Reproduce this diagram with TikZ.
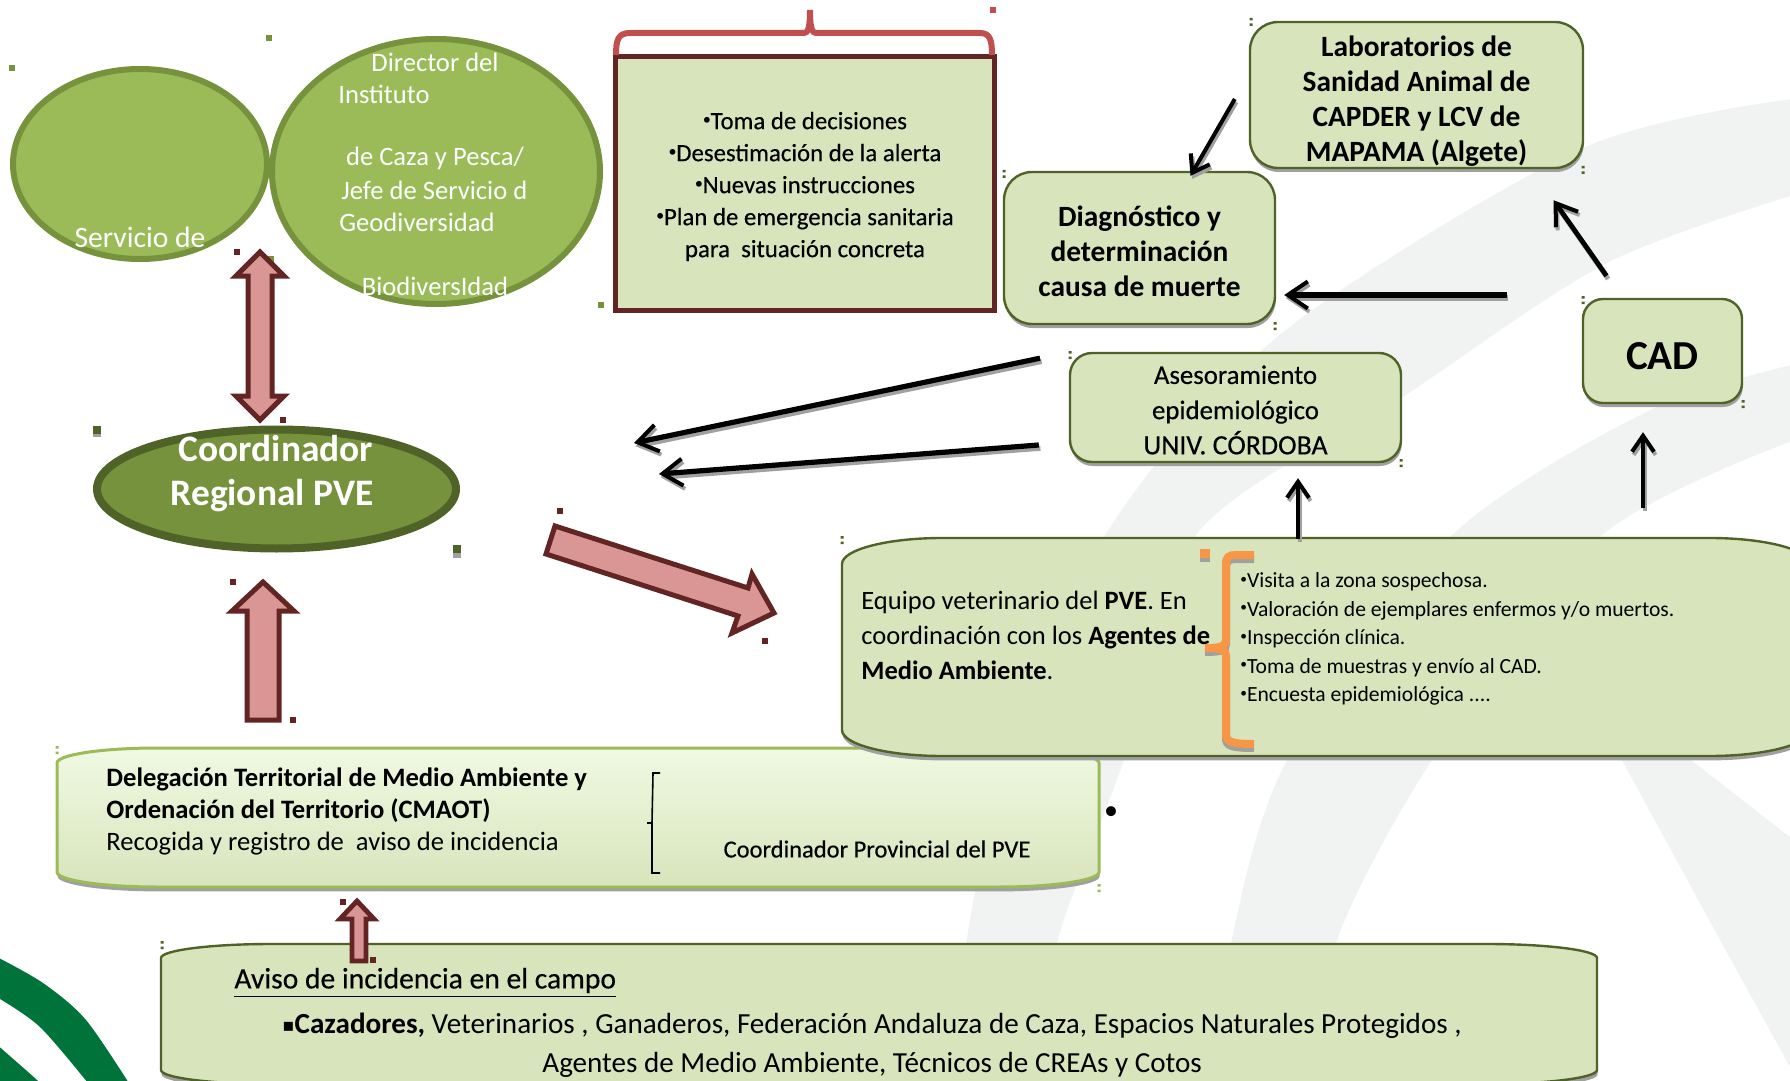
\documentclass[tikz,border=0pt]{standalone}
\usepackage{graphicx}
\usepackage{fontspec}
\setmainfont{Carlito}
\newfontfamily\semib[FakeBold=0.35]{Carlito}
\newfontfamily\dejavu{DejaVu Sans}
\usetikzlibrary{shapes.geometric,arrows.meta,shadows,calc}
\definecolor{boxfill}{HTML}{D8E4BC}
\definecolor{boxline}{HTML}{4F6228}
\definecolor{midgreen}{HTML}{9BBB59}
\definecolor{midline}{HTML}{76923C}
\definecolor{darkred}{HTML}{632523}
\definecolor{pinkfill}{HTML}{D99694}
\definecolor{redline}{HTML}{C0504D}
\definecolor{orangeb}{HTML}{F79646}
\definecolor{shadowg}{HTML}{A0A0A0}
\definecolor{swoosh}{HTML}{F1F3F2}
\definecolor{logogreen}{HTML}{00733A}
\definecolor{lighttop}{HTML}{F0F9E2}
\tikzset{
  gbox/.style={draw=boxline,fill=boxfill,line width=1.2pt,inner sep=0pt,
    general shadow={fill=shadowg,shadow xshift=0.4pt,shadow yshift=-2pt}},
  boxtext/.style={inner sep=0pt,align=center},
  lightell/.style={ellipse,draw=midline,fill=midgreen,line width=3pt,inner sep=0pt},
  whitetxt/.style={text=white,inner sep=0pt,font=\fontsize{13.3}{15}\selectfont},
  blockarrow/.style={draw=darkred,fill=pinkfill,line width=2.5pt,miter limit=8},
  conn/.style={line width=#1,-{Straight Barb[length=10pt,width=13.5pt,line width=2pt]}},
  connsmall/.style={line width=#1,-{Straight Barb[length=8pt,width=11pt,line width=2pt]}},
  connshadow/.style={draw=shadowg,transform canvas={xshift=0.8pt,yshift=-1.6pt}},
}
\newcommand\bul{\raisebox{.42ex}{\scalebox{.62}{•}}}
\newcommand\sq[4]{\fill[#1] (#2-#4/2,#3-#4/2) rectangle (#2+#4/2,#3+#4/2);}
\newcommand\handle[3]{\fill[#1] (#2-1.5,#3-4) rectangle (#2+1.5,#3-1.5) (#2-1.5,#3+1.5) rectangle (#2+1.5,#3+4);}
\newcommand\linkarrow[4]{\draw[#1=#2,connshadow] #3 -- #4;\draw[#1=#2,black] #3 -- #4;}
\newcommand\ovalbox[7]{%
  \begingroup
  \pgfmathsetmacro\xl{#1}\pgfmathsetmacro\xr{#3}\pgfmathsetmacro\yt{#2}\pgfmathsetmacro\yb{#4}%
  \pgfmathsetmacro\xli{#1+#5}\pgfmathsetmacro\xri{#3-#5}\pgfmathsetmacro\yti{#2+#6}\pgfmathsetmacro\ybi{#4-#6}%
  \pgfmathsetmacro\xlc{#1+0.45*#5}\pgfmathsetmacro\xrc{#3-0.45*#5}\pgfmathsetmacro\ytc{#2+0.45*#6}\pgfmathsetmacro\ybc{#4-0.45*#6}%
  \def\ovalshape{(\xl,\yti) .. controls (\xl,\ytc) and (\xlc,\yt) .. (\xli,\yt) -- (\xri,\yt)
    .. controls (\xrc,\yt) and (\xr,\ytc) .. (\xr,\yti) -- (\xr,\ybi)
    .. controls (\xr,\ybc) and (\xrc,\yb) .. (\xri,\yb) -- (\xli,\yb)
    .. controls (\xlc,\yb) and (\xl,\ybc) .. (\xl,\ybi) -- cycle}%
  \fill[shadowg,transform canvas={xshift=0.3pt,yshift=-2.2pt}] \ovalshape;
  \path[#7] \ovalshape;
  \endgroup}
\begin{document}
\begin{tikzpicture}[x=0.5pt,y=-0.5pt]
\path[use as bounding box] (0,0) rectangle (1790,1081);
\clip (0,0) rectangle (1790,1081);
% background swooshes
\fill[swoosh] plot[smooth] coordinates {(1800,98) (1583,148) (1282,333) (1105,535) (1004,776) (966,943) (950,1090)}
  -- plot[smooth] coordinates {(1040,1090) (1057,943) (1124,760) (1196,535) (1403,397) (1607,263) (1800,193)} -- cycle;
\fill[swoosh] plot[smooth] coordinates {(1800,363) (1650,410) (1450,537) (1287,760) (1231,943) (1215,1090)}
  -- plot[smooth] coordinates {(1320,1090) (1336,943) (1432,760) (1600,537) (1800,438)} -- cycle;
\fill[swoosh] (1600,720) -- (1720,940) -- (1800,1085) -- (1800,845) -- (1640,720) -- cycle;
% logo arcs
\fill[logogreen] plot[smooth] coordinates {(-5,956) (43,983) (86,1020) (132,1088)}
  -- plot[smooth] coordinates {(92,1088) (40,1027) (-5,996)} -- cycle;
\fill[logogreen] plot[smooth] coordinates {(-5,1043) (37,1080) (40,1085)} -- (-5,1085) -- cycle;
% handles, small squares behind
\sq{midline}{12}{68}{6}\sq{midline}{269}{38}{6}\sq{midline}{601}{305}{6}\sq{midline}{271}{259}{6}
\sq{darkred}{237}{252}{6}\sq{darkred}{283}{420}{6}\sq{darkred}{233}{582}{6}\sq{darkred}{293}{720}{6}
\sq{darkred}{560}{511}{6}\sq{darkred}{765}{641}{6}\sq{redline}{993}{10}{6}
\fill[shadowg] (93,427) rectangle (101,437);\sq{boxline}{97}{430}{8}
\fill[shadowg] (453,545) rectangle (461,558);\sq{boxline}{457}{549}{8}
\handle{boxline}{1251}{22}\handle{boxline}{1583}{170}\handle{boxline}{1004}{174}\handle{boxline}{1275}{326}
\handle{boxline}{1070}{355}\handle{boxline}{1401}{463}\handle{boxline}{1583}{300}\handle{boxline}{1743}{404}
\handle{boxline}{842}{540}\handle{midgreen}{57}{750}\handle{midgreen}{1099}{888}\handle{boxline}{162}{945}
% ellipses
\node[lightell,minimum width=127pt,minimum height=95pt] (servicio) at (140,164) {};
\node[lightell,minimum width=164pt,minimum height=132.5pt] (director) at (436,171.5) {};
\node[whitetxt] (t1) at (435,62) {Director del};
\node[whitetxt,anchor=west] (t2) at (338,94) {Instituto};
\node[whitetxt] (t3) at (435,158) {de Caza y Pesca/};
\node[whitetxt,anchor=west] (t4) at (341,190) {Jefe de Servicio d};
\node[whitetxt,anchor=west] (t5) at (339,222) {Geodiversidad};
\node[whitetxt] (t6) at (435,286) {BiodiversIdad};
\node[whitetxt,font=\fontsize{14.8}{16}\selectfont] (t7) at (140,237) {Servicio de};
% coordinator
\node[ellipse,draw=boxline,fill=midline,line width=4pt,inner sep=0pt,minimum width=179.5pt,minimum height=59.5pt,
  general shadow={fill=shadowg,shadow xshift=0pt,shadow yshift=-1.5pt}] (coord) at (276.5,489) {};
\node[text=white,inner sep=0pt,font=\fontsize{18.7}{20}\selectfont\bfseries] (coord1) at (276,449) {Coordinador};
\node[text=white,inner sep=0pt,font=\fontsize{18.7}{20}\selectfont\bfseries] (coord2) at (272,496) {Regional PVE};
% block arrows
\draw[blockarrow] (260,252) -- (284,276) -- (272,276) -- (272,396) -- (284,396) -- (260,420) -- (236,396) -- (248,396) -- (248,276) -- (236,276) -- cycle;
\draw[blockarrow] (263,582) -- (294,611) -- (279,611) -- (279,720) -- (247,720) -- (247,611) -- (232,611) -- cycle;
\draw[blockarrow] (555,526) -- (748,588) -- (752,574) -- (774,613) -- (732,633) -- (738,616) -- (546,554) -- cycle;
% decisions box with red bracket
\node[draw=darkred,fill=boxfill,line width=2.5pt,inner sep=0pt,minimum width=189.5pt,minimum height=126.5pt] (toma) at (804.5,183.5) {};
\node[boxtext,font=\semib\fontsize{12.4}{16}\selectfont] (tomatxt) at (805,186.5)
  {\bul Toma de decisiones\\\bul Desestimación de la alerta\\\bul Nuevas instrucciones\\\bul Plan de emergencia sanitaria\\para~ situación concreta};
\draw[redline,line width=3pt] (616,55) .. controls (616,40) and (618,33) .. (630,33) -- (804,33) .. controls (808,33) and (810,28) .. (810,10)
  .. controls (810,28) and (812,33) .. (816,33) -- (980,33) .. controls (990,33) and (992,40) .. (992,55);
% right-hand boxes
\node[gbox,rounded corners=14pt,minimum width=166.5pt,minimum height=73pt] (lab) at (1416.5,95) {};
\node[boxtext,font=\fontsize{14.7}{17.6}\selectfont\bfseries] (labtxt) at (1416.5,101)
  {Laboratorios de\\Sanidad Animal de\\CAPDER y LCV de\\MAPAMA (Algete)};
\node[gbox,rounded corners=14pt,minimum width=135.5pt,minimum height=76pt] (diag) at (1139.5,248) {};
\node[boxtext,font=\fontsize{14.7}{17.6}\selectfont\bfseries] (diagtxt) at (1139.5,251)
  {Diagnóstico y\\determinación\\causa de muerte};
\node[gbox,rounded corners=11pt,minimum width=165.5pt,minimum height=54.5pt] (ases) at (1235.5,407.5) {};
\node[boxtext,font=\semib\fontsize{13.95}{17.6}\selectfont] (asestxt) at (1235.5,410)
  {{\fontsize{13.4}{17.6}\selectfont Asesoramiento}\\{\fontsize{13.4}{17.6}\selectfont epidemiológico}\\UNIV. CÓRDOBA};
\node[gbox,rounded corners=10pt,minimum width=79.5pt,minimum height=52pt] (cad) at (1662.5,351) {};
\node[boxtext,font=\fontsize{20.6}{22}\selectfont\bfseries] (cadtxt) at (1662.5,356) {CAD};
% delegation box
\ovalbox{57}{748}{1099}{887}{100}{15}{draw=midgreen,line width=1.5pt,top color=lighttop,bottom color=boxfill}
\node[anchor=west,align=left,inner sep=0pt,font=\fontsize{13.3}{16}\selectfont] (deleg) at (106,811)
  {\textbf{Delegación Territorial de Medio Ambiente y}\\\textbf{Ordenación del Territorio (CMAOT)}\\Recogida y registro de~ aviso de incidencia};
\draw[black,line width=0.8pt] (660,773) -- (653,773) -- (652,823) -- (647,823) -- (652,823) -- (652,873) -- (660,873);
\node[inner sep=0pt,font=\semib\fontsize{12.25}{15}\selectfont] (cprov) at (877,849) {Coordinador Provincial del PVE};
\node[inner sep=0pt,font=\fontsize{14}{15}\selectfont] (dot) at (1111,813) {•};
% team box
\ovalbox{842}{538}{1810}{756}{100}{26}{draw=boxline,fill=boxfill,line width=1.2pt}
\node[anchor=west,align=left,inner sep=0pt,font=\fontsize{13.25}{17.5}\selectfont] (equipo) at (861,635)
  {Equipo veterinario del \textbf{PVE}. En\\coordinación con los \textbf{Agentes de}\\\textbf{Medio Ambiente}.};
\node[anchor=west,align=left,inner sep=0pt,font=\fontsize{10.8}{14.3}\selectfont] (tareas) at (1240,639)
  {\bul Visita a la zona sospechosa.\\\bul Valoración de ejemplares enfermos y/o muertos.\\\bul Inspección clínica.\\\bul Toma de muestras y envío al CAD.\\\bul Encuesta epidemiológica ....};
\fill[shadowg] (1200,552) rectangle (1210,562);\fill[orangeb] (1200,549) rectangle (1210,558);
\path[draw=shadowg,line width=4pt] (1254,559) -- (1236,559) .. controls (1229,559) and (1226,561) .. (1226,568) -- (1226,644)
  .. controls (1226,650) and (1222,652) .. (1205,652) (1226,664) -- (1226,738) .. controls (1226,745) and (1229,748) .. (1254,748);
\draw[orangeb,line width=4pt] (1254,555) -- (1236,555) .. controls (1229,555) and (1226,557) .. (1226,564) -- (1226,640)
  .. controls (1226,646) and (1222,648) .. (1205,648) .. controls (1222,648) and (1226,650) .. (1226,656) -- (1226,734)
  .. controls (1226,741) and (1229,744) .. (1254,744);
% field box
\ovalbox{161}{944}{1597}{1084}{110}{14}{draw=boxline,fill=boxfill,line width=1.2pt}
\node[anchor=west,inner sep=0pt,font=\semib\fontsize{14.8}{17}\selectfont] (aviso) at (234,982.5) {\underline{Aviso de incidencia en el campo}};
\node[anchor=west,inner sep=0pt,font=\fontsize{14.57}{17}\selectfont] (agentes1) at (282,1026)
  {{\dejavu\fontsize{9}{9}\selectfont\raisebox{.25ex}{▪}}\textbf{Cazadores,} Veterinarios , Ganaderos, Federación Andaluza de Caza, Espacios Naturales Protegidos ,};
\node[anchor=west,inner sep=0pt,font=\fontsize{14.55}{17}\selectfont] (agentes2) at (542,1065) {Agentes de Medio Ambiente, Técnicos de CREAs y Cotos};
\draw[blockarrow,line width=2.4pt] (357,901) -- (374,919) -- (366,919) -- (366,961) -- (352,961) -- (352,919) -- (340,919) -- cycle;
\sq{darkred}{343}{902}{6}\sq{darkred}{373}{960}{6}
% connectors
\coordinate (coordTipA) at (634,443);
\coordinate (coordTipB) at (659,474);
\coordinate (equipoTopA) at (1298,539);
\coordinate (equipoTopB) at (1643,508);
\linkarrow{connsmall}{2pt}{([shift={(-7pt,-2pt)}]lab.west)}{([shift={(25.5pt,-2.5pt)}]diag.north)}
\linkarrow{conn}{3pt}{([shift={(-37.5pt,28pt)}]cad.west)}{([shift={(4pt,-23.5pt)}]diag.east)}
\linkarrow{conn}{2.4pt}{([shift={(-28pt,11pt)}]cad.north)}{([shift={(68.5pt,-15.5pt)}]lab.south)}
\linkarrow{conn}{2.6pt}{([shift={(-49.75pt,-16.5pt)}]diag.south)}{(coordTipA)}
\linkarrow{conn}{2.6pt}{([shift={(-15pt,-18.75pt)}]ases.west)}{(coordTipB)}
\linkarrow{connsmall}{2pt}{(equipoTopA)}{([shift={(31.25pt,-7.5pt)}]ases.south)}
\linkarrow{connsmall}{2pt}{(equipoTopB)}{([shift={(-9.75pt,-14pt)}]cad.south)}
\end{tikzpicture}
\end{document}
